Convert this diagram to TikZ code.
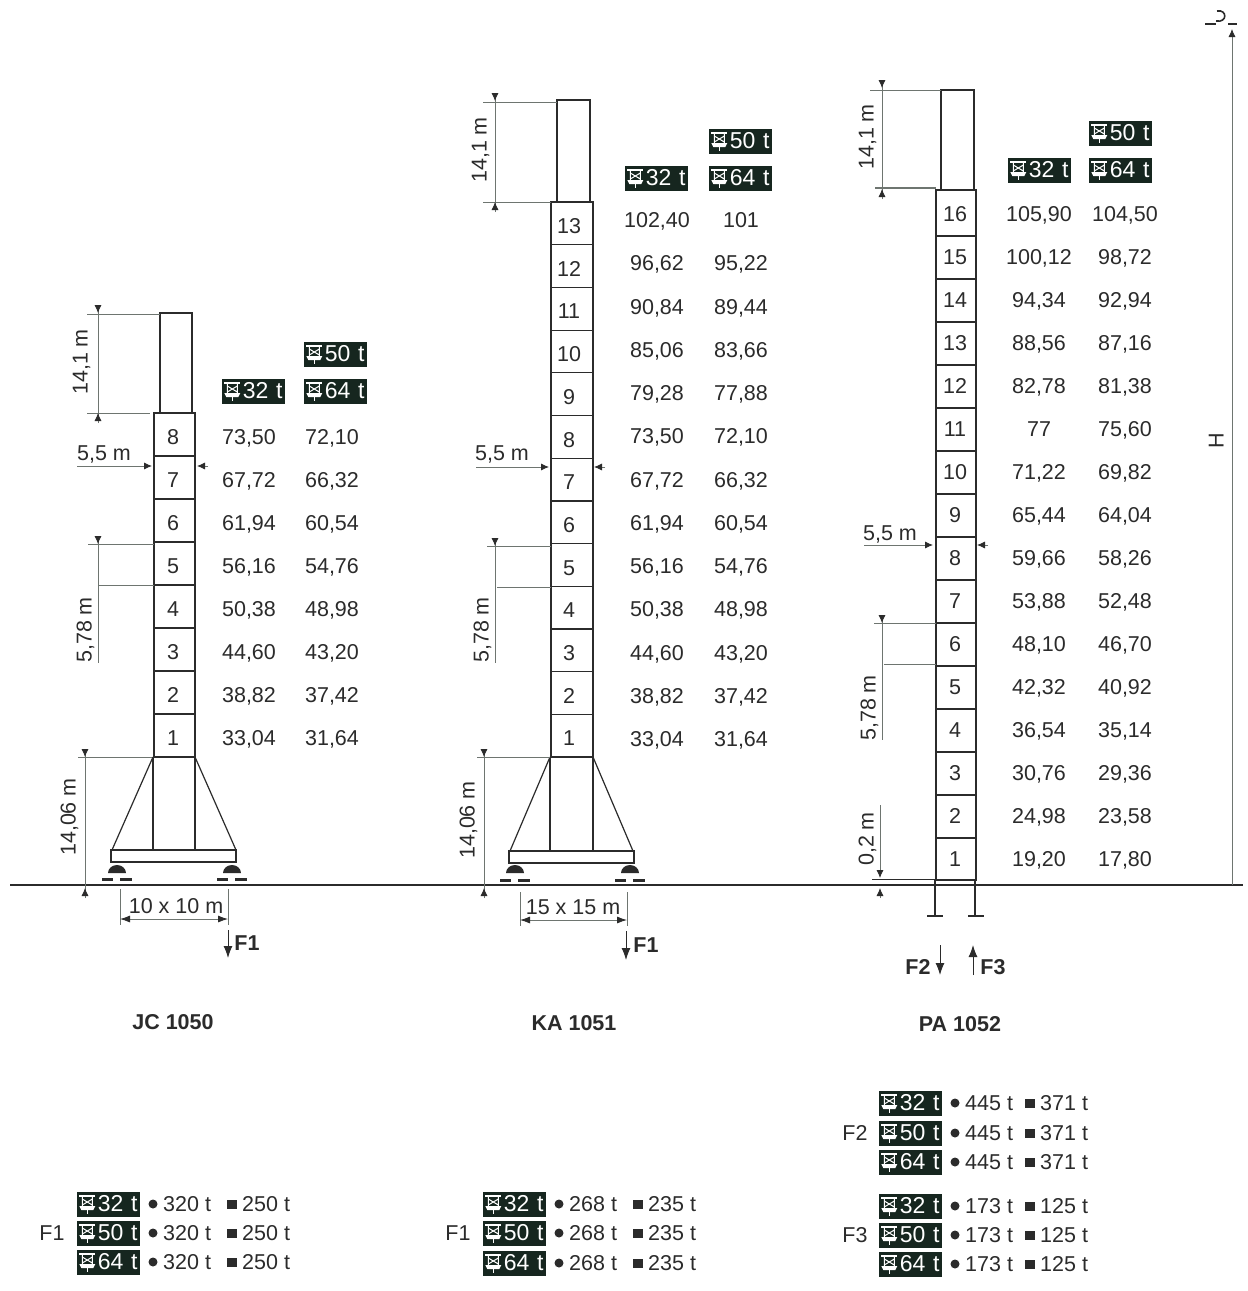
\documentclass[tikz,border=0pt]{standalone}
\usepackage{xcolor}
\usepackage{fontspec}
\setmainfont{Liberation Sans}
\usepackage{tikz}
\usetikzlibrary{positioning,arrows.meta}
\definecolor{inkgray}{HTML}{2B2B2B}
\definecolor{tagdark}{HTML}{16261F}
\definecolor{dimgray}{HTML}{6E7570}
\tikzset{
	txt/.style={inner sep=0pt,text height=15pt,text depth=0pt,text=inkgray,font=\fontsize{21.5}{21.5}\selectfont},
	boldtxt/.style={inner sep=0pt,text height=15pt,text depth=0pt,text=inkgray,font=\fontsize{21.5}{21.5}\selectfont\bfseries},
	tagbox/.style={fill=tagdark,text=white,inner xsep=2pt,inner ysep=0pt,minimum height=25pt,text width=59pt,text height=15pt,text depth=0pt,align=right,font=\fontsize{23}{23}\selectfont},
	mast/.style={draw=inkgray,line width=1.2pt},
	dimthin/.style={draw=dimgray,line width=0.8pt},
	tipline/.style={draw=dimgray,line width=0.8pt,-{Latex[length=8pt,width=7pt,inkgray]}},
	bigtip/.style={draw=inkgray,line width=1pt,-{Latex[length=12pt,width=9pt,inkgray]}},
	hoist/.pic={
		\draw[white,line width=1.5pt] (-8,-8) -- (8,-8);
		\draw[white,line width=1pt] (-5,-8) -- (-5,2) (5,-8) -- (5,2) (-5,-5) -- (5,1) (5,-5) -- (-5,1);
		\fill[white] (-8,2) -- (8,2) -- (6,6) -- (-6,6) -- cycle;
		\draw[white,line width=1.3pt] (0,5) -- (0,10);
	}
}
% load tag with hoist symbol
\newcommand{\loadtag}[4]{
	\node[tagbox] (#1) at (#2,#3) {#4};
	\pic at ([xshift=11pt]#1.west) {hoist};
}
% dimension line with two tips pointing inwards
\newcommand{\vdim}[4]{
	\draw[dimthin] (#1,#2) -- (#1,#4);
	\draw[tipline] (#1,#2) -- (#1,#2+8);
	\draw[tipline] (#1,#3+10) -- (#1,#3);
}
\newcommand{\loadrow}[7]{
	\loadtag{#1}{#2}{#3}{#4}
	\fill[inkgray] (#2+45,#3) circle (4.5pt);
	\node[txt,anchor=west] (#1a) at (#2+55,#3) {#5};
	\fill[inkgray] (#6-5,#3-4.5) rectangle (#6+5,#3+4.5);
	\node[txt,anchor=west] (#1b) at (#6+10,#3) {#7};
}
\begin{document}
\begin{tikzpicture}[x=1pt,y=-1pt]
	\useasboundingbox (0,0) rectangle (1248,1291);
	\fill[white] (0,0) rectangle (1248,1291);
	% ground
	\draw[inkgray,line width=2.6pt] (10,885) -- (1243,885);

	% JC 1050
	\draw[mast] (160,413) -- (160,313) -- (192,313) -- (192,413);
	\draw[mast] (154,413) rectangle (195,757);
	\foreach \n/\va/\vb [count=\i from 0] in {8/{73,50}/{72,10},7/{67,72}/{66,32},6/{61,94}/{60,54},5/{56,16}/{54,76},4/{50,38}/{48,98},3/{44,60}/{43,20},2/{38,82}/{37,42},1/{33,04}/{31,64}}
	{
		\pgfmathsetmacro\rowy{437+\i*43}
		\pgfmathsetmacro\liney{456+\i*43}
		\node[txt] (jc\n) at (173,\rowy) {\n};
		\node[txt] (jca\n) at (249,\rowy) {\va};
		\node[txt] (jcb\n) at (332,\rowy) {\vb};
		\ifnum\i<7 \draw[mast] (154,\liney) -- (195,\liney); \fi
	}
	\loadtag{jctagA}{253}{391}{32 t}
	\loadtag{jctagB}{335}{354}{50 t}
	\loadtag{jctagC}{335}{391}{64 t}
	\draw[mast] (153,757) -- (153,850) (195,757) -- (195,850);
	\draw[mast] (153,757) -- (112,850) (195,757) -- (236,850);
	\draw[mast] (111,850) rectangle (236,862);
	\foreach \fx in {117,232}
	{
		\fill[inkgray] (\fx-9,873) arc[start angle=180,end angle=0,x radius=9pt,y radius=8pt] -- cycle;
		\draw[inkgray,line width=3pt] (\fx-15,879) -- (\fx-4,879) (\fx+3,879) -- (\fx+15,879);
	}
	\draw[dimthin] (87,314) -- (160,314) (87,413) -- (150,413);
	\vdim{98}{305}{413}{423}
	\node[txt,rotate=90] (jcmast) at (80,362) {14,1 m};
	\draw[dimthin] (88,544) -- (154,544) (98,585) -- (154,585);
	\vdim{98}{536}{2000}{663}
	\node[txt,rotate=90] (jcseg) at (84,630) {5,78 m};
	\draw[dimthin] (78,757) -- (152,757);
	\vdim{85}{749}{888}{898}
	\node[txt,rotate=90] (jcbase) at (68,817) {14,06 m};
	\node[txt] (jcwidth) at (104,453) {5,5 m};
	\coordinate [] (jcL) at (77,466);
	\coordinate [] (jcLe) at (152,466);
	\coordinate [] (jcR) at (208,466);
	\coordinate [] (jcRe) at (197,466);
	\draw[tipline] (jcL) -- (jcLe);
	\draw[tipline] (jcR) -- (jcRe);
	\draw[dimthin] (120,889) -- (120,925) (228,889) -- (228,925);
	\draw[dimthin,{Latex[length=10pt,width=7pt,inkgray]}-{Latex[length=10pt,width=7pt,inkgray]}] (120,919) -- (228,919);
	\node[txt] (jcspan) at (176,906) {10 x 10 m};
	\coordinate [] (jcF) at (228,930);
	\coordinate [] (jcFe) at (228,958);
	\draw[bigtip] (jcF) -- (jcFe);
	\node[boldtxt] (jcFone) at (247,943) {F1};
	\node[boldtxt] (jctitle) at (173,1022) {JC 1050};
	\loadrow{jcrA}{108}{1204}{32 t}{320 t}{232}{250 t}
	\loadrow{jcrB}{108}{1233}{50 t}{320 t}{232}{250 t}
	\loadrow{jcrC}{108}{1262}{64 t}{320 t}{232}{250 t}
	\node[txt] (jcFtwo) at (52,1233) {F1};

	% KA 1051
	\draw[mast] (557,202) -- (557,100) -- (590,100) -- (590,202);
	\draw[mast] (551,202) rectangle (593,757);
	\foreach \n/\va/\vb [count=\i from 0] in {13/{102,40}/{101},12/{96,62}/{95,22},11/{90,84}/{89,44},10/{85,06}/{83,66},9/{79,28}/{77,88},8/{73,50}/{72,10},7/{67,72}/{66,32},6/{61,94}/{60,54},5/{56,16}/{54,76},4/{50,38}/{48,98},3/{44,60}/{43,20},2/{38,82}/{37,42},1/{33,04}/{31,64}}
	{
		\pgfmathsetmacro\rowy{220+\i*43.25}
		\pgfmathsetmacro\celly{226+\i*42.7}
		\pgfmathsetmacro\liney{244.7+\i*42.7}
		\node[txt] (ka\n) at (569,\celly) {\n};
		\node[txt] (kaa\n) at (657,\rowy) {\va};
		\node[txt] (kab\n) at (741,\rowy) {\vb};
		\ifnum\i<12 \draw[mast] (551,\liney) -- (593,\liney); \fi
	}
	\loadtag{katagA}{656}{178}{32 t}
	\loadtag{katagB}{740}{141}{50 t}
	\loadtag{katagC}{740}{178}{64 t}
	\draw[mast] (550,757) -- (550,851) (593,757) -- (593,851);
	\draw[mast] (550,757) -- (510,851) (593,757) -- (633,851);
	\draw[mast] (509,851) rectangle (634,863);
	\foreach \fx in {515,630}
	{
		\fill[inkgray] (\fx-9,873) arc[start angle=180,end angle=0,x radius=9pt,y radius=8pt] -- cycle;
		\draw[inkgray,line width=3pt] (\fx-15,880) -- (\fx-4,880) (\fx+3,880) -- (\fx+15,880);
	}
	\draw[dimthin] (483,102) -- (557,102) (483,202) -- (551,202);
	\vdim{495}{93}{202}{212}
	\node[txt,rotate=90] (kamast) at (479,150) {14,1 m};
	\draw[dimthin] (487,546) -- (551,546) (497,587) -- (551,587);
	\vdim{495}{538}{2000}{663}
	\node[txt,rotate=90] (kaseg) at (481,630) {5,78 m};
	\draw[dimthin] (477,757) -- (550,757);
	\vdim{484}{749}{888}{898}
	\node[txt,rotate=90] (kabase) at (467,820) {14,06 m};
	\node[txt] (kawidth) at (502,453) {5,5 m};
	\coordinate [] (kaL) at (476,467);
	\coordinate [] (kaLe) at (549,467);
	\coordinate [] (kaR) at (605,467);
	\coordinate [] (kaRe) at (594,467);
	\draw[tipline] (kaL) -- (kaLe);
	\draw[tipline] (kaR) -- (kaRe);
	\draw[dimthin] (520,892) -- (520,926) (627,892) -- (627,926);
	\draw[dimthin,{Latex[length=10pt,width=7pt,inkgray]}-{Latex[length=10pt,width=7pt,inkgray]}] (520,920) -- (627,920);
	\node[txt] (kaspan) at (573,907) {15 x 15 m};
	\coordinate [] (kaF) at (626,931);
	\coordinate [] (kaFe) at (626,960);
	\draw[bigtip] (kaF) -- (kaFe);
	\node[boldtxt] (kaFone) at (646,945) {F1};
	\node[boldtxt] (katitle) at (574,1023) {KA 1051};
	\loadrow{karA}{514}{1204}{32 t}{268 t}{638}{235 t}
	\loadrow{karB}{514}{1233}{50 t}{268 t}{638}{235 t}
	\loadrow{karC}{514}{1263}{64 t}{268 t}{638}{235 t}
	\node[txt] (kaFtwo) at (458,1233) {F1};

	% PA 1052
	\draw[mast] (941,190) -- (941,90) -- (974,90) -- (974,190);
	\draw[mast] (936,190) rectangle (976,880);
	\foreach \n/\va/\vb [count=\i from 0] in {16/{105,90}/{104,50},15/{100,12}/{98,72},14/{94,34}/{92,94},13/{88,56}/{87,16},12/{82,78}/{81,38},11/{77}/{75,60},10/{71,22}/{69,82},9/{65,44}/{64,04},8/{59,66}/{58,26},7/{53,88}/{52,48},6/{48,10}/{46,70},5/{42,32}/{40,92},4/{36,54}/{35,14},3/{30,76}/{29,36},2/{24,98}/{23,58},1/{19,20}/{17,80}}
	{
		\pgfmathsetmacro\rowy{214+\i*43}
		\pgfmathsetmacro\liney{236+\i*43}
		\node[txt] (pa\n) at (955,\rowy) {\n};
		\node[txt] (paa\n) at (1039,\rowy) {\va};
		\node[txt] (pab\n) at (1125,\rowy) {\vb};
		\ifnum\i<15 \draw[mast] (936,\liney) -- (976,\liney); \fi
	}
	\loadtag{patagA}{1039}{170}{32 t}
	\loadtag{patagB}{1120}{133}{50 t}
	\loadtag{patagC}{1120}{170}{64 t}
	\draw[mast] (935,880) -- (935,916) (975,880) -- (975,916);
	\draw[inkgray,line width=1.6pt] (927,916) -- (943,916) (968,916) -- (984,916);
	\draw[dimthin] (870,90) -- (941,90);
	\draw[dimthin,line width=1.6pt] (875,188) -- (936,188);
	\vdim{882}{80}{189}{199}
	\node[txt,rotate=90] (pamast) at (866,137) {14,1 m};
	\draw[dimthin] (874,623) -- (936,623) (884,664) -- (936,664);
	\vdim{882}{615}{2000}{740}
	\node[txt,rotate=90] (paseg) at (868,708) {5,78 m};
	\draw[inkgray,line width=1pt] (872,879) -- (936,879);
	\draw[tipline] (880,805) -- (880,878);
	\draw[tipline] (880,898) -- (880,888);
	\node[txt,rotate=90] (pabase) at (866,839) {0,2 m};
	\node[txt] (pawidth) at (890,533) {5,5 m};
	\coordinate [] (paL) at (864,545);
	\coordinate [] (paLe) at (933,545);
	\coordinate [] (paR) at (988,545);
	\coordinate [] (paRe) at (977,545);
	\draw[tipline] (paL) -- (paLe);
	\draw[tipline] (paR) -- (paRe);
	\coordinate [] (paFdown) at (940,945);
	\coordinate [] (paFdowne) at (940,975);
	\coordinate [] (paFup) at (973,975);
	\coordinate [] (paFupe) at (973,945);
	\draw[bigtip] (paFdown) -- (paFdowne);
	\draw[bigtip] (paFup) -- (paFupe);
	\node[boldtxt] (paFtwo) at (918,967) {F2};
	\node[boldtxt] (paFthree) at (993,967) {F3};
	\node[boldtxt] (patitle) at (960,1024) {PA 1052};
	\loadrow{parA}{910}{1103}{32 t}{445 t}{1030}{371 t}
	\loadrow{parB}{910}{1133}{50 t}{445 t}{1030}{371 t}
	\loadrow{parC}{910}{1162}{64 t}{445 t}{1030}{371 t}
	\node[txt] (paFfour) at (855,1133) {F2};
	\loadrow{parD}{910}{1206}{32 t}{173 t}{1030}{125 t}
	\loadrow{parE}{910}{1235}{50 t}{173 t}{1030}{125 t}
	\loadrow{parF}{910}{1264}{64 t}{173 t}{1030}{125 t}
	\node[txt] (paFfive) at (855,1235) {F3};

	% total height
	\coordinate [] (Htop) at (1232,885);
	\coordinate [] (Htope) at (1232,29);
	\draw[tipline] (Htop) -- (Htope);
	\draw[inkgray,line width=1.4pt] (1205,24) -- (1216,24) (1228,24) -- (1237,24);
	\draw[inkgray,line width=1.6pt] (1217,11) .. controls (1227,9) and (1228,23) .. (1216,21);
	\node[txt,rotate=90] (Hlabel) at (1216,441) {H};
\end{tikzpicture}
\end{document}
